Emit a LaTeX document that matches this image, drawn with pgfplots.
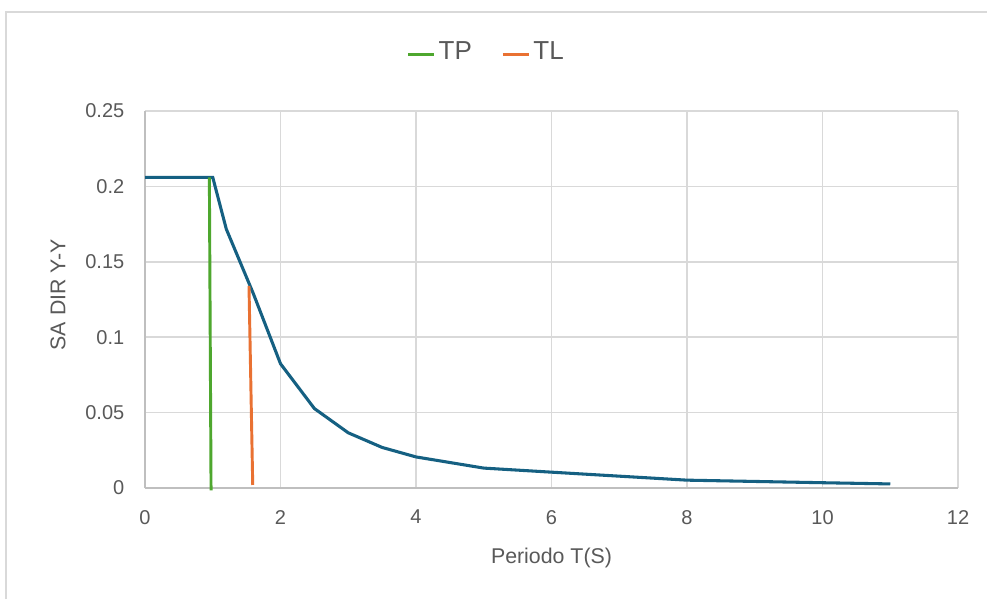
\documentclass[border=0pt]{standalone}
\usepackage{pgfplots}
\pgfplotsset{compat=1.18}
\usepackage{fontspec}
\setmainfont{Liberation Sans}
\definecolor{txt}{HTML}{595959}
\definecolor{gridc}{HTML}{D9D9D9}
\definecolor{axc}{HTML}{BFBFBF}
\definecolor{curve}{HTML}{156082}
\definecolor{tpc}{HTML}{4EA72E}
\definecolor{tlc}{HTML}{E97132}
\begin{document}
\begin{tikzpicture}
\useasboundingbox (0,0) rectangle (740.25pt,449.25pt);
\fill[white] (0,0) rectangle (740.25pt,449.25pt);
\draw[gridc, line width=1.5pt] (4.5pt,0) -- (4.5pt,440.25pt) -- (740.25pt,440.25pt);
\begin{axis}[
  at={(108.75pt,83.25pt)}, anchor=south west,
  scale only axis, width=609.75pt, height=282.75pt,
  xmin=0, xmax=12, ymin=0, ymax=0.25,
  xtick={0,2,4,6,8,10,12},
  ytick={0,0.05,0.1,0.15,0.2,0.25},
  yticklabels={0,0.05,0.1,0.15,0.2,0.25},
  axis x line=bottom, axis y line=left,
  axis line style={axc, line width=1.4pt, -},
  major tick length=0pt,
  grid=major,
  major grid style={gridc, line width=1.2pt},
  tick label style={font=\fontsize{15}{18}\selectfont, text=txt},
  /pgf/number format/assume math mode=true,
  xticklabel style={anchor=north, yshift=-13pt},
  yticklabel style={anchor=east, xshift=-12pt},
  xlabel={Periodo T(S)}, ylabel={SA DIR Y-Y},
  label style={font=\fontsize{16}{19}\selectfont, text=txt},
  xlabel style={at={(axis description cs:0.5,-0.186)}, anchor=center},
  ylabel style={at={(axis description cs:-0.107,0.512)}, anchor=center, rotate=0},
  legend columns=2,
  legend style={at={(axis description cs:0.42,1.158)}, anchor=center, draw=none, fill=none,
    font=\fontsize{19.5}{23}\selectfont, text=txt,
    /tikz/every even column/.append style={column sep=20pt}},
  legend image code/.code={\draw[#1, line width=2.6pt] (0pt,-2.2pt) -- (19.5pt,-2.2pt);},
  clip=false,
]
\addplot[curve, line width=2.3pt, forget plot] coordinates {
 (0,0.206) (1.0,0.206) (1.2,0.1717) (1.6,0.1288) (2.0,0.0824) (2.5,0.0527)
 (3.0,0.0366) (3.5,0.0269) (4.0,0.0206) (5.0,0.0132) (6.0,0.0105) (8.0,0.0052)
 (10.0,0.0035) (11.0,0.0027)};
\addplot[tpc, line width=2.2pt] coordinates {(0.95,0.206) (0.975,-0.0015)};
\addlegendentry{TP}
\addplot[tlc, line width=2.2pt] coordinates {(1.535,0.134) (1.59,0.002)};
\addlegendentry{TL}
\end{axis}
\end{tikzpicture}
\end{document}
